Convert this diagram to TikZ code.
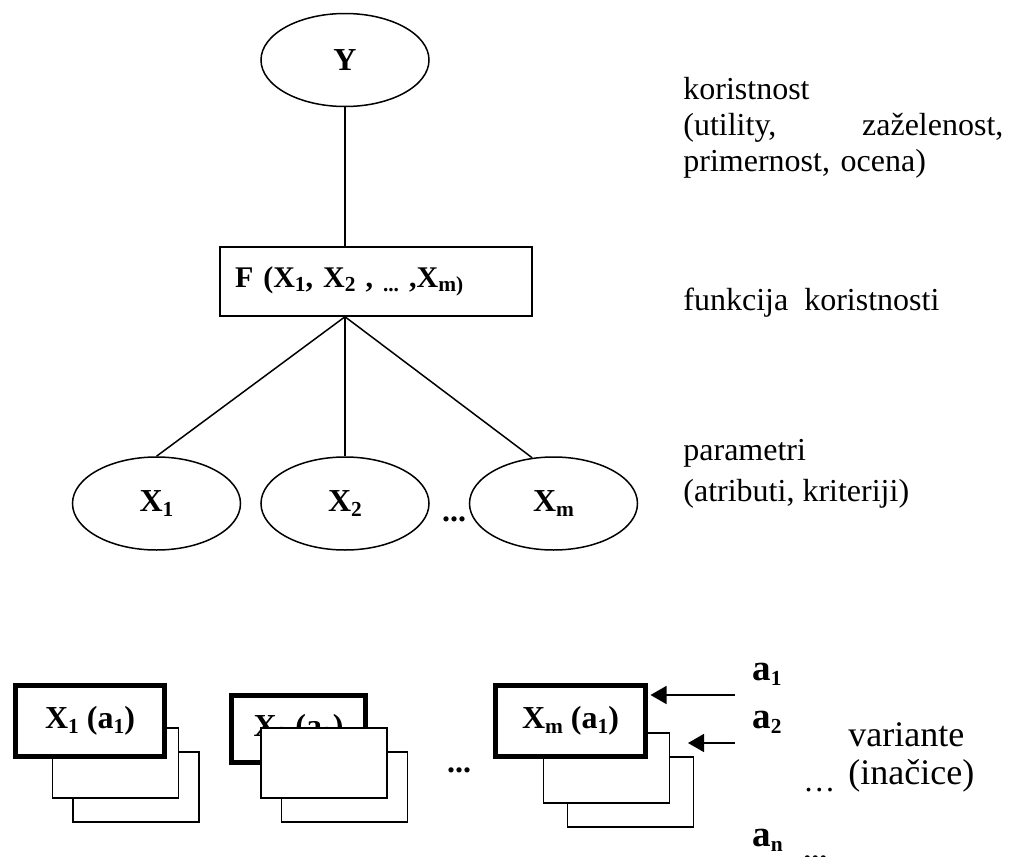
\documentclass[tikz,border=0pt]{standalone}
\usepackage{fontspec}
\setmainfont{Liberation Serif}
\usetikzlibrary{arrows.meta, shapes.geometric}
\frenchspacing
\newcommand{\txtfont}{\fontsize{16}{18}\selectfont}
\newcommand{\subidx}[1]{\raisebox{-0.3ex}{\fontsize{10.7}{12}\selectfont #1}}
\tikzset{oval/.style = {shape=ellipse,draw,line width=0.75pt,minimum width=84pt,minimum height=46.5pt,inner sep=0pt,font=\txtfont\bfseries}}
\tikzset{fbox/.style = {shape=rectangle,draw,line width=0.75pt,minimum height=34.5pt,text width=141pt,inner xsep=7.5pt,align=left,font=\fontsize{15}{18}\selectfont\bfseries}}
\tikzset{card/.style = {shape=rectangle,draw,fill=white,line width=0.75pt,minimum width=63pt,minimum height=35pt}}
\tikzset{thickcard/.style = {card,line width=2.5pt,font=\txtfont\bfseries}}
\tikzset{note/.style = {anchor=base west,inner sep=0pt,font=\txtfont}}
\tikzset{alabel/.style = {note,font=\fontsize{18.5}{20}\selectfont\bfseries}}
\tikzset{dots/.style = {inner sep=0pt,anchor=base,font=\txtfont\bfseries}}
\tikzset{link/.style = {line width=0.75pt}}
\tikzset{edge/.style = {-{Triangle[length=8pt,width=9pt]},line width=0.75pt}}

\begin{document}
\begin{tikzpicture}[x=0.5pt,y=-0.5pt]
        \useasboundingbox (0,0) rectangle (1014,857);
        % tree of the utility function
        \node[oval] (Y) at (345,60) {Y};
        \node[fbox] (F) at (376,281.5) {F (X\subidx{1}, X\subidx{2} , \subidx{...} ,X\subidx{m)}};
        \draw[link] (Y) to (Y |- F.north);
        \coordinate (Fbot) at (Y |- F.south);
        \node[oval] (X1) at (156.5,503.5) {X\subidx{1}};
        \draw[link] (Fbot) to (X1.north);
        \node[oval] (X2) at (345,503.5) {X\subidx{2}};
        \draw[link] (Fbot) to (X2.north);
        \node[oval] (Xm) at (553.5,503.5) {X\subidx{m}};
        \draw[link] (Fbot) to (Xm.115);
        \node[dots] (xdots) at (454,521) {...};
        % notes on the right
        \node[note,text width=160pt,align=left] (util) at (683,99) {koristnost\\(utility,\hfill zaželenost,\\primernost, ocena)};
        \node[note] (func) at (683,310) {funkcija~~koristnosti};
        \node[note,align=left,font=\fontsize{16}{20.5}\selectfont] (param) at (683,501) {parametri\\(atributi, kriteriji)};
        % variants
        \node[card] (c13) at (136,787) {};
        \node[card] (c12) at (115.5,763) {};
        \node[thickcard,minimum width=74.5pt,minimum height=35.5pt] (c11) at (90,721) {X\subidx{1} (a\subidx{1})};
        \node[card] (c23) at (344.5,787) {};
        \node[thickcard,minimum width=67pt,minimum height=33.5pt] (c21) at (298.5,729) {X\subidx{2} (a\subidx{2})};
        \node[card] (c22) at (324,763) {};
        \node[dots] (cdots) at (459,772) {...};
        \node[card] (c33) at (630.5,792) {};
        \node[card] (c32) at (606.5,768) {};
        \node[thickcard,minimum width=75pt,minimum height=35.5pt] (c31) at (570.5,721) {X\subidx{m} (a\subidx{1})};
        \coordinate (in1) at (735,695);
        \coordinate (in2) at (735,743);
        \coordinate (tip2) at (688,743);
        \draw[edge,shorten >=1.25pt] (in1) to (in1 -| c31.east);
        \draw[edge] (in2) to (tip2);
        \node[alabel] (a1) at (752,680) {a\subidx{1}};
        \node[alabel] (a2) at (752,728) {a\subidx{2}};
        \node[alabel] (an) at (752,846) {a\subidx{n}};
        \node[note] (adots) at (803,791) {…};
        \node[dots,anchor=base west] (bdots) at (803,860) {...};
        \node[note,align=left,font=\fontsize{18}{19}\selectfont] (var) at (848,784) {variante\\(inačice)};
\end{tikzpicture}
\end{document}
